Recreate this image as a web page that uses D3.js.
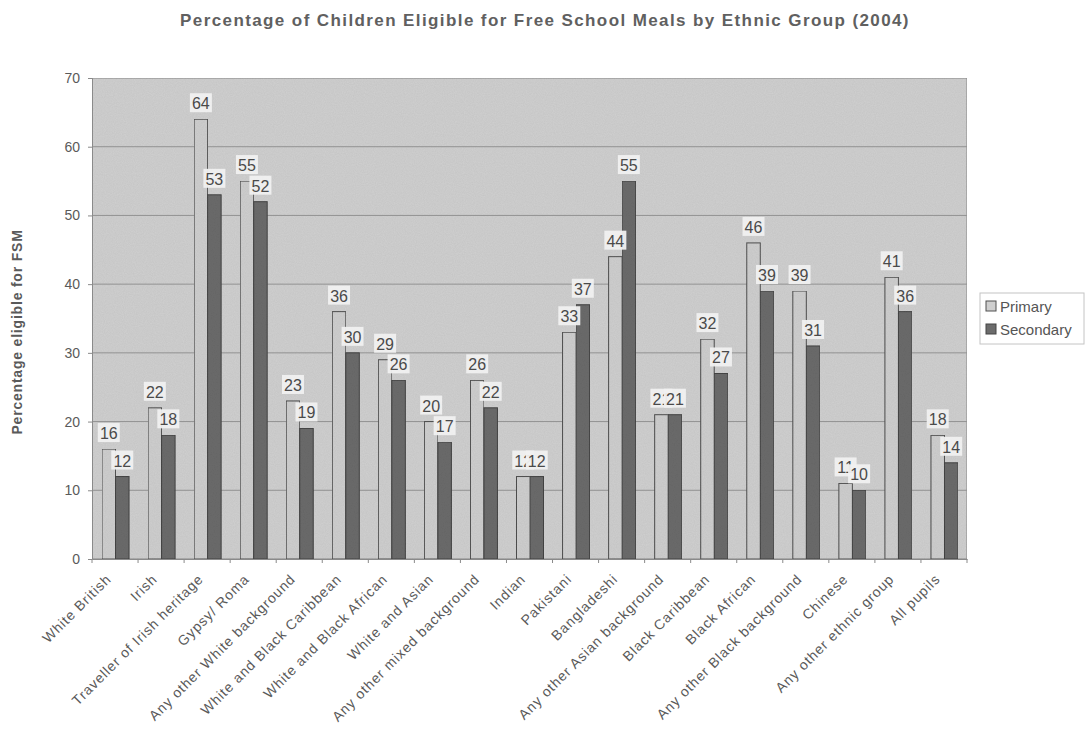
<!DOCTYPE html>
<html><head><meta charset="utf-8">
<script src="https://cdn.jsdelivr.net/npm/d3@7"></script>
<style>body{margin:0;background:#fff;} text{font-family:"Liberation Sans",Arial,sans-serif;}</style>
</head><body>
<svg id="chart" width="1088" height="737"></svg>
<script>
const categories = ["White British","Irish","Traveller of Irish heritage","Gypsy/ Roma","Any other White background","White and Black Caribbean","White and Black African","White and Asian","Any other mixed background","Indian","Pakistani","Bangladeshi","Any other Asian background","Black Caribbean","Black African","Any other Black background","Chinese","Any other ethnic group","All pupils"];
const primary   = [16,22,64,55,23,36,29,20,26,12,33,44,21,32,46,39,11,41,18];
const secondary = [12,18,53,52,19,30,26,17,22,12,37,55,21,27,39,31,10,36,14];
const seriesNames = ["Primary","Secondary"];
const yTicks = [0,10,20,30,40,50,60,70];

const svg = d3.select("#chart");
const m = {left:92, right:967, top:78, bottom:559};
const x = d3.scaleBand().domain(categories).range([m.left, m.right]);
const y = d3.scaleLinear().domain([0,70]).range([m.bottom, m.top]);
const bw = 13.5;

const defs = svg.append("defs");
const f = defs.append("filter").attr("id","grain").attr("x",0).attr("y",0).attr("width","100%").attr("height","100%");
f.append("feTurbulence").attr("type","fractalNoise").attr("baseFrequency",0.9).attr("numOctaves",2).attr("seed",3).attr("result","n");
f.append("feColorMatrix").attr("in","n").attr("type","matrix")
 .attr("values","0 0 0 0 0  0 0 0 0 0  0 0 0 0 0  0 0 0 0.12 0").attr("result","a");
f.append("feComposite").attr("in","a").attr("in2","SourceGraphic").attr("operator","in").attr("result","b");
f.append("feMerge").selectAll("feMergeNode").data(["SourceGraphic","b"]).join("feMergeNode").attr("in",d=>d);

const FONT = "Liberation Sans, Arial, sans-serif";

// plot bg
svg.append("rect").attr("x",m.left).attr("y",m.top).attr("width",m.right-m.left).attr("height",m.bottom-m.top)
  .attr("fill","#d0d0d0").attr("stroke","#8a8a8a").attr("stroke-width",1).attr("filter","url(#grain)");

// gridlines
svg.append("g").selectAll("line").data(yTicks.filter(d=>d>0&&d<70)).join("line")
  .attr("x1",m.left).attr("x2",m.right).attr("y1",d=>y(d)).attr("y2",d=>y(d))
  .attr("stroke","#929292").attr("stroke-width",1);

// y axis
const ya = svg.append("g").attr("transform",`translate(${m.left},0)`)
  .call(d3.axisLeft(y).tickValues(yTicks).tickSize(4).tickPadding(8));
ya.select(".domain").attr("stroke","#8a8a8a");
ya.selectAll(".tick line").attr("stroke","#8a8a8a");
ya.selectAll("text").attr("font-size",14).attr("fill","#5a5a5a").style("font-family",FONT);

// x axis
const xa = svg.append("g").attr("transform",`translate(0,${m.bottom})`)
  .call(d3.axisBottom(x).tickSize(0).tickPadding(0));
xa.select(".domain").attr("stroke","#8a8a8a");
xa.selectAll(".tick text").attr("font-size",14).attr("fill","#5a5a5a")
  .style("font-family",FONT).style("letter-spacing","0.9px")
  .attr("text-anchor","end").attr("dy",0)
  .attr("transform","translate(-3,21) rotate(-45)");
svg.append("g").selectAll("line").data(d3.range(categories.length+1)).join("line")
  .attr("x1",i=>m.left+i*x.bandwidth()).attr("x2",i=>m.left+i*x.bandwidth())
  .attr("y1",m.bottom).attr("y2",m.bottom+4).attr("stroke","#8a8a8a");

// bars
const series = [
  {name:seriesNames[0], vals:primary, fill:"#cfcfcf", stroke:"#505050", off:-bw},
  {name:seriesNames[1], vals:secondary, fill:"#6c6c6c", stroke:"#454545", off:0}
];
series.forEach(s=>{
  svg.append("g").selectAll("rect").data(categories).join("rect")
    .attr("x",(c)=>x(c)+x.bandwidth()/2+s.off+0.5)
    .attr("y",(c,i)=>y(s.vals[i]))
    .attr("width",bw)
    .attr("height",(c,i)=>y(0)-y(s.vals[i]))
    .attr("fill",s.fill).attr("stroke",s.stroke).attr("stroke-width",1).attr("filter","url(#grain)");
});
// labels
series.forEach(s=>{
  const g = svg.append("g");
  categories.forEach((c,i)=>{
    const cx = x(c)+x.bandwidth()/2+s.off+0.5+bw/2;
    const cy = y(s.vals[i])-16;
    const t = String(s.vals[i]);
    const w = t.length*9+4;
    g.append("rect").attr("x",cx-w/2).attr("y",cy-10).attr("width",w).attr("height",19).attr("fill","#f0f0f0").attr("opacity",0.95);
    g.append("text").attr("x",cx).attr("y",cy+6).attr("text-anchor","middle").attr("font-size",16).attr("fill","#4a4a4a").text(t);
  });
});

// title
svg.append("text").attr("x",545).attr("y",26).attr("text-anchor","middle").attr("font-size",17).attr("font-weight","bold").attr("fill","#606060")
  .style("letter-spacing","1.4px")
  .text("Percentage of Children Eligible for Free School Meals by Ethnic Group (2004)");
// y title
svg.append("text").attr("transform","translate(22,332) rotate(-90)").attr("text-anchor","middle").attr("font-size",14).attr("font-weight","bold").attr("fill","#5a5a5a")
  .style("letter-spacing","0.8px")
  .text("Percentage eligible for FSM");

// legend
const lg = svg.append("g");
lg.append("rect").attr("x",980).attr("y",293).attr("width",104).attr("height",51).attr("fill","#fff").attr("stroke","#c4c4c4");
series.forEach((s,i)=>{
  lg.append("rect").attr("x",986).attr("y",301+i*23).attr("width",10).attr("height",10).attr("fill",s.fill).attr("stroke",s.stroke);
  lg.append("text").attr("x",1000).attr("y",312+i*23).attr("font-size",15).attr("fill","#555").text(s.name);
});
</script>
</body></html>
